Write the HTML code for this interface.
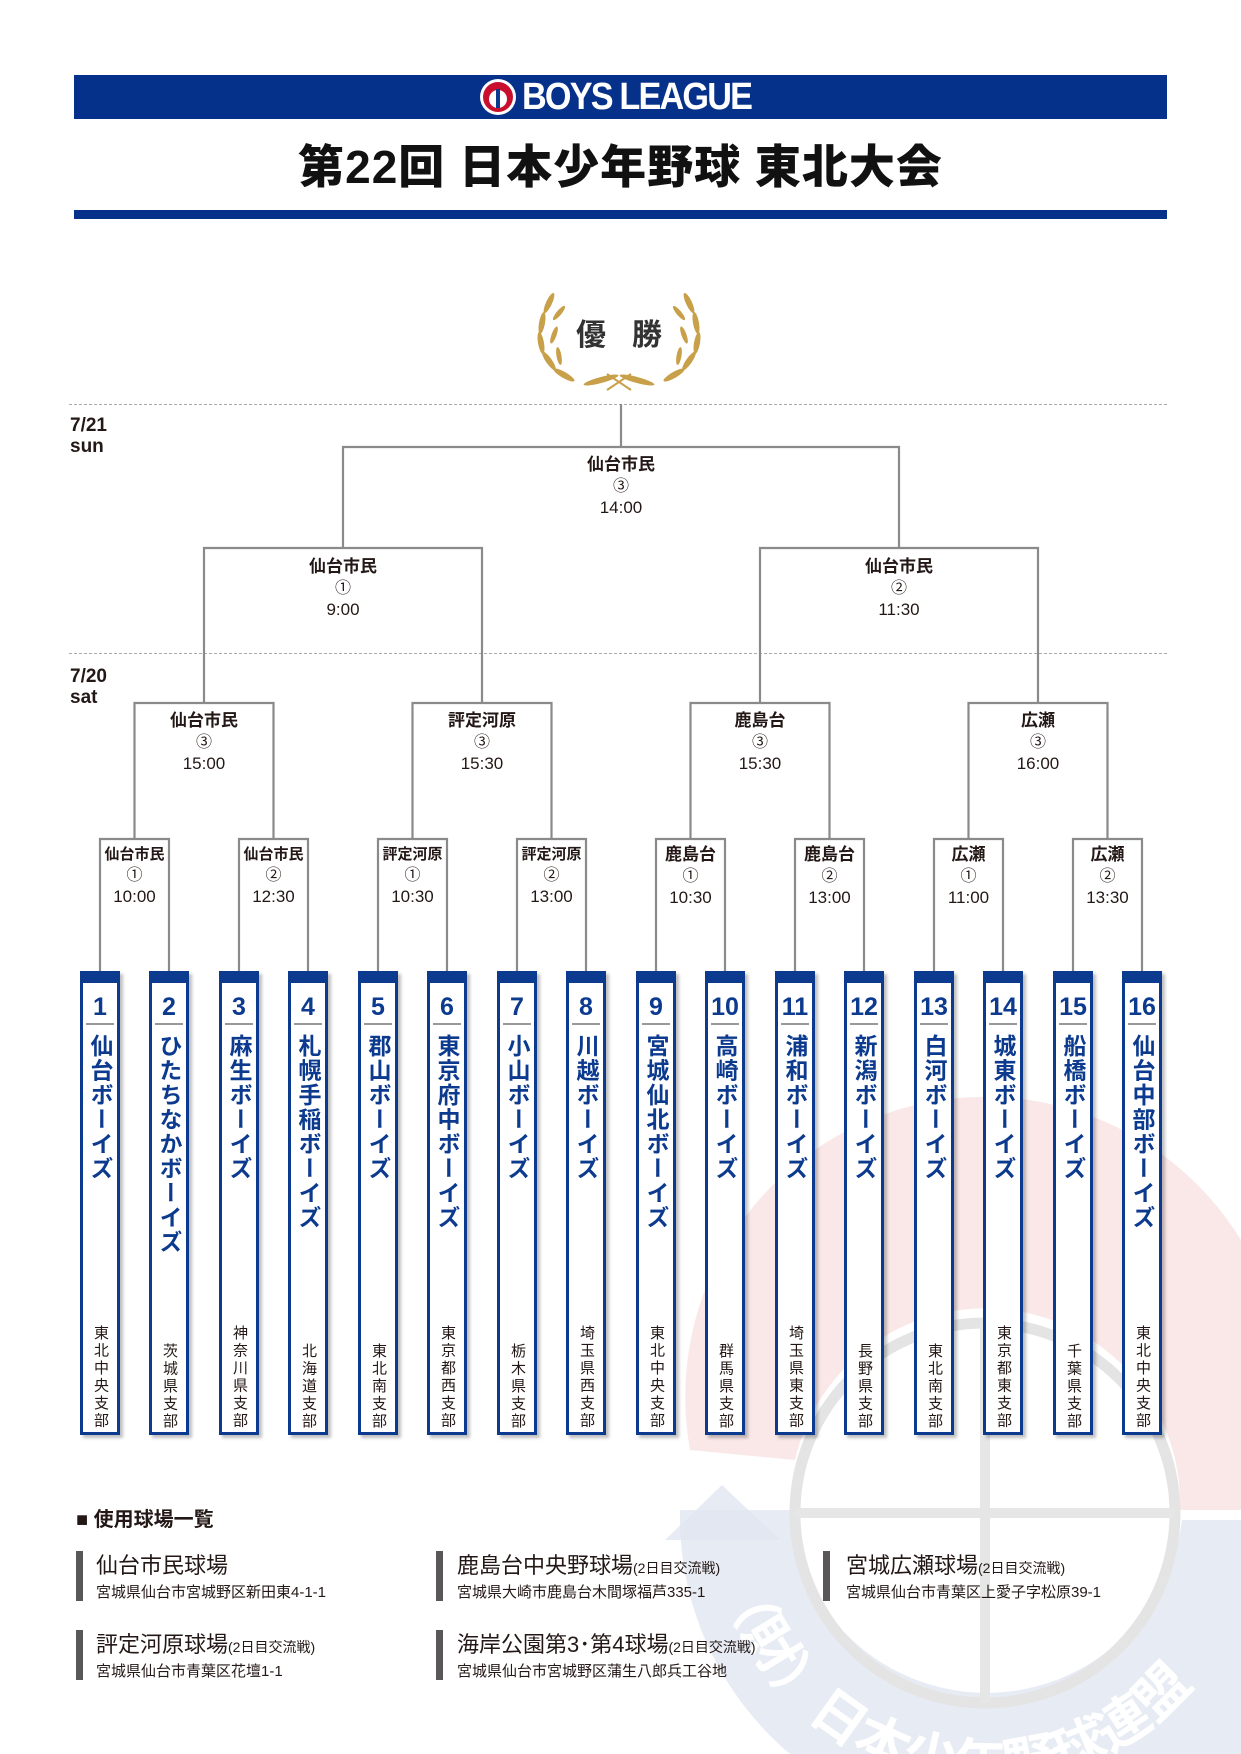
<!DOCTYPE html>
<html><head><meta charset="utf-8">
<style>
*{margin:0;padding:0;box-sizing:border-box}
html,body{width:1241px;height:1754px;overflow:hidden}
body{position:relative;background:#fff;font-family:"Liberation Sans","Noto Sans CJK JP",sans-serif;color:#231815}
.a{position:absolute}
.lbl{position:absolute;text-align:center;line-height:21px;font-size:17px;font-weight:bold;width:160px}
.lbl .c{font-weight:normal;font-size:16px}
.lbl .t{font-weight:normal;font-size:17px}
.lbl.s{font-size:15px}
.team{position:absolute;top:971px;width:40px;height:464px;border:3px solid #0b3a8e;border-top:12px solid #0b3a8e;background:#fff;box-shadow:3px 3px 3px rgba(0,0,0,.25)}
.team .n{position:absolute;top:10px;left:0;width:34px;text-align:center;font-size:25px;font-weight:bold;color:#0b3a8e;line-height:28px}
.team .u{position:absolute;top:40px;left:3px;width:28px;height:2px;background:#999}
.team .nm{position:absolute;top:51px;left:4px;writing-mode:vertical-rl;text-orientation:upright;font-size:23px;font-weight:bold;color:#0b3a8e;letter-spacing:1.5px;line-height:26px}
.team .rg{position:absolute;bottom:2px;left:8px;writing-mode:vertical-rl;text-orientation:upright;font-size:15px;letter-spacing:2.5px;line-height:18px;color:#231815}
.vb{position:absolute;width:7px;height:50px;background:#595757}
.vn{position:absolute;font-size:22px;color:#231815}
.vn small{font-size:14px}
.va{position:absolute;font-size:15px;color:#231815}
</style></head><body>

<!-- watermark -->
<svg class="a" style="left:0;top:0" width="1241" height="1754">
<defs><path id="arc" d="M715,1513 A270,270 0 0 0 1255,1513"/></defs>
<path d="M690,1450 A300,300 0 0 1 1241,1240 L1241,1510 L1180,1510 A195,195 0 0 0 795,1460 Z" fill="#f8dede" opacity="0.7"/>
<path d="M680,1510 L790,1510 A197,197 0 0 0 1182,1520 L1241,1520 L1241,1754 L790,1754 A310,310 0 0 1 680,1510 Z" fill="#e1e6f1" opacity="0.8"/>
<path d="M665,1540 L722,1485 L780,1540 Z" fill="#e1e6f1" opacity="0.8"/>
<circle cx="985" cy="1513" r="190" fill="none" stroke="#e4e4e4" stroke-width="11"/>
<line x1="985" y1="1323" x2="985" y2="1703" stroke="#e6e6e6" stroke-width="10"/>
<line x1="795" y1="1513" x2="1175" y2="1513" stroke="#e6e6e6" stroke-width="10"/>
<text font-size="54" font-weight="bold" fill="#fff" font-family="Noto Sans CJK JP,sans-serif"><textPath href="#arc" startOffset="8%">（財）日本少年野球連盟</textPath></text>
</svg>

<!-- header -->
<div class="a" style="left:74px;top:75px;width:1093px;height:44px;background:#06318a"></div>
<svg class="a" style="left:478px;top:77px" width="40" height="40"><circle cx="20" cy="20" r="18" fill="#fff"/><circle cx="20" cy="20" r="15" fill="#c8102e"/><circle cx="20" cy="22" r="9" fill="#fff"/><rect x="18" y="12" width="4" height="19" fill="#0b3a8e"/></svg>
<div class="a" style="left:522px;top:77px;font-size:38px;font-weight:bold;color:#fff;letter-spacing:-2px;line-height:40px;transform:scaleX(0.9);transform-origin:left">BOYS LEAGUE</div>
<div class="a" style="left:0;width:1241px;top:138px;text-align:center;font-size:46px;font-weight:900;line-height:58px;color:#111;letter-spacing:1px">第22回 日本少年野球 東北大会</div>
<div class="a" style="left:74px;top:210px;width:1093px;height:9px;background:#06318a"></div>

<!-- laurel -->
<svg class="a" style="left:529px;top:278px" width="180" height="115">
<g fill="#c9a04a">
<ellipse cx="20" cy="25" rx="3" ry="11" transform="rotate(25 20 25)"/>
<ellipse cx="13" cy="45" rx="3" ry="11" transform="rotate(10 13 45)"/>
<ellipse cx="12" cy="65" rx="3" ry="11" transform="rotate(-10 12 65)"/>
<ellipse cx="20" cy="83" rx="3" ry="11" transform="rotate(-35 20 83)"/>
<ellipse cx="35" cy="97" rx="3" ry="12" transform="rotate(-60 35 97)"/>
<ellipse cx="30" cy="35" rx="2.5" ry="9" transform="rotate(40 30 35)"/>
<ellipse cx="25" cy="57" rx="2.5" ry="9" transform="rotate(20 25 57)"/>
<ellipse cx="30" cy="78" rx="2.5" ry="9" transform="rotate(-10 30 78)"/>
<ellipse cx="160" cy="25" rx="3" ry="11" transform="rotate(-25 160 25)"/>
<ellipse cx="167" cy="45" rx="3" ry="11" transform="rotate(-10 167 45)"/>
<ellipse cx="168" cy="65" rx="3" ry="11" transform="rotate(10 168 65)"/>
<ellipse cx="160" cy="83" rx="3" ry="11" transform="rotate(35 160 83)"/>
<ellipse cx="145" cy="97" rx="3" ry="12" transform="rotate(60 145 97)"/>
<ellipse cx="150" cy="35" rx="2.5" ry="9" transform="rotate(-40 150 35)"/>
<ellipse cx="155" cy="57" rx="2.5" ry="9" transform="rotate(-20 155 57)"/>
<ellipse cx="150" cy="78" rx="2.5" ry="9" transform="rotate(10 150 78)"/>
<ellipse cx="72" cy="102" rx="18" ry="3" transform="rotate(-15 72 102)"/>
<ellipse cx="108" cy="102" rx="18" ry="3" transform="rotate(15 108 102)"/>
</g>
<path d="M78,112 L102,96 M102,112 L78,96" stroke="#c9a04a" stroke-width="2"/>
</svg>
<div class="a" style="left:576px;top:310px;font-size:30px;font-weight:bold;color:#333">優</div>
<div class="a" style="left:632px;top:310px;font-size:30px;font-weight:bold;color:#333">勝</div>

<!-- dotted lines -->
<div class="a" style="left:69px;top:404px;width:1098px;border-top:1px dashed #aaa"></div>
<div class="a" style="left:69px;top:653px;width:1098px;border-top:1px dashed #aaa"></div>
<div class="a" style="left:70px;top:415px;font-size:19px;font-weight:bold;line-height:21px">7/21<br>sun</div>
<div class="a" style="left:70px;top:666px;font-size:19px;font-weight:bold;line-height:21px">7/20<br>sat</div>

<!-- brackets -->
<svg class="a" style="left:0;top:0" width="1241" height="1000">
<g fill="none" stroke="#8a8a8a" stroke-width="2.2">
<path d="M621,404 V447"/>
<path d="M343,548 V447 H899 V548"/>
<path d="M204,703 V548 H482 V703"/>
<path d="M760,703 V548 H1038 V703"/>
<path d="M134.5,839 V703 H273.5 V839"/>
<path d="M412.5,839 V703 H551.5 V839"/>
<path d="M690.5,839 V703 H829.5 V839"/>
<path d="M968.5,839 V703 H1107.5 V839"/>
<path d="M100,971 V839 H169 V971"/>
<path d="M239,971 V839 H308 V971"/>
<path d="M378,971 V839 H447 V971"/>
<path d="M517,971 V839 H586 V971"/>
<path d="M656,971 V839 H725 V971"/>
<path d="M795,971 V839 H864 V971"/>
<path d="M934,971 V839 H1003 V971"/>
<path d="M1073,971 V839 H1142 V971"/>
</g></svg>

<!-- labels -->
<div class="lbl" style="left:541px;top:454px">仙台市民<br><span class="c">③</span><br><span class="t">14:00</span></div>
<div class="lbl" style="left:263px;top:556px">仙台市民<br><span class="c">①</span><br><span class="t">9:00</span></div>
<div class="lbl" style="left:819px;top:556px">仙台市民<br><span class="c">②</span><br><span class="t">11:30</span></div>
<div class="lbl" style="left:124px;top:710px">仙台市民<br><span class="c">③</span><br><span class="t">15:00</span></div>
<div class="lbl" style="left:402px;top:710px">評定河原<br><span class="c">③</span><br><span class="t">15:30</span></div>
<div class="lbl" style="left:680px;top:710px">鹿島台<br><span class="c">③</span><br><span class="t">15:30</span></div>
<div class="lbl" style="left:958px;top:710px">広瀬<br><span class="c">③</span><br><span class="t">16:00</span></div>

<div class="lbl s" style="left:54.5px;top:844px">仙台市民<br><span class="c">①</span><br><span class="t">10:00</span></div>
<div class="lbl s" style="left:193.5px;top:844px">仙台市民<br><span class="c">②</span><br><span class="t">12:30</span></div>
<div class="lbl s" style="left:332.5px;top:844px">評定河原<br><span class="c">①</span><br><span class="t">10:30</span></div>
<div class="lbl s" style="left:471.5px;top:844px">評定河原<br><span class="c">②</span><br><span class="t">13:00</span></div>
<div class="lbl" style="left:610.5px;top:844px">鹿島台<br><span class="c">①</span><br><span class="t">10:30</span></div>
<div class="lbl" style="left:749.5px;top:844px">鹿島台<br><span class="c">②</span><br><span class="t">13:00</span></div>
<div class="lbl" style="left:888.5px;top:844px">広瀬<br><span class="c">①</span><br><span class="t">11:00</span></div>
<div class="lbl" style="left:1027.5px;top:844px">広瀬<br><span class="c">②</span><br><span class="t">13:30</span></div>

<!-- teams -->
<div class="team" style="left:80px"><div class="n">1</div><div class="u"></div><div class="nm">仙台ボーイズ</div><div class="rg">東北中央支部</div></div>
<div class="team" style="left:149px"><div class="n">2</div><div class="u"></div><div class="nm">ひたちなかボーイズ</div><div class="rg">茨城県支部</div></div>
<div class="team" style="left:219px"><div class="n">3</div><div class="u"></div><div class="nm">麻生ボーイズ</div><div class="rg">神奈川県支部</div></div>
<div class="team" style="left:288px"><div class="n">4</div><div class="u"></div><div class="nm">札幌手稲ボーイズ</div><div class="rg">北海道支部</div></div>
<div class="team" style="left:358px"><div class="n">5</div><div class="u"></div><div class="nm">郡山ボーイズ</div><div class="rg">東北南支部</div></div>
<div class="team" style="left:427px"><div class="n">6</div><div class="u"></div><div class="nm">東京府中ボーイズ</div><div class="rg">東京都西支部</div></div>
<div class="team" style="left:497px"><div class="n">7</div><div class="u"></div><div class="nm">小山ボーイズ</div><div class="rg">栃木県支部</div></div>
<div class="team" style="left:566px"><div class="n">8</div><div class="u"></div><div class="nm">川越ボーイズ</div><div class="rg">埼玉県西支部</div></div>
<div class="team" style="left:636px"><div class="n">9</div><div class="u"></div><div class="nm">宮城仙北ボーイズ</div><div class="rg">東北中央支部</div></div>
<div class="team" style="left:705px"><div class="n">10</div><div class="u"></div><div class="nm">高崎ボーイズ</div><div class="rg">群馬県支部</div></div>
<div class="team" style="left:775px"><div class="n">11</div><div class="u"></div><div class="nm">浦和ボーイズ</div><div class="rg">埼玉県東支部</div></div>
<div class="team" style="left:844px"><div class="n">12</div><div class="u"></div><div class="nm">新潟ボーイズ</div><div class="rg">長野県支部</div></div>
<div class="team" style="left:914px"><div class="n">13</div><div class="u"></div><div class="nm">白河ボーイズ</div><div class="rg">東北南支部</div></div>
<div class="team" style="left:983px"><div class="n">14</div><div class="u"></div><div class="nm">城東ボーイズ</div><div class="rg">東京都東支部</div></div>
<div class="team" style="left:1053px"><div class="n">15</div><div class="u"></div><div class="nm">船橋ボーイズ</div><div class="rg">千葉県支部</div></div>
<div class="team" style="left:1122px"><div class="n">16</div><div class="u"></div><div class="nm">仙台中部ボーイズ</div><div class="rg">東北中央支部</div></div>

<!-- venues -->
<div class="a" style="left:76px;top:1508px;font-size:20px;font-weight:bold;line-height:24px">■ 使用球場一覧</div>

<div class="vb" style="left:76px;top:1551px"></div>
<div class="vn" style="left:96px;top:1548px">仙台市民球場</div>
<div class="va" style="left:96px;top:1581px">宮城県仙台市宮城野区新田東4-1-1</div>

<div class="vb" style="left:436px;top:1551px"></div>
<div class="vn" style="left:457px;top:1548px">鹿島台中央野球場<small>(2日目交流戦)</small></div>
<div class="va" style="left:457px;top:1581px">宮城県大崎市鹿島台木間塚福芦335-1</div>

<div class="vb" style="left:823px;top:1551px"></div>
<div class="vn" style="left:846px;top:1548px">宮城広瀬球場<small>(2日目交流戦)</small></div>
<div class="va" style="left:846px;top:1581px">宮城県仙台市青葉区上愛子字松原39-1</div>

<div class="vb" style="left:76px;top:1630px"></div>
<div class="vn" style="left:96px;top:1627px">評定河原球場<small>(2日目交流戦)</small></div>
<div class="va" style="left:96px;top:1660px">宮城県仙台市青葉区花壇1-1</div>

<div class="vb" style="left:436px;top:1630px"></div>
<div class="vn" style="left:457px;top:1627px">海岸公園第3･第4球場<small>(2日目交流戦)</small></div>
<div class="va" style="left:457px;top:1660px">宮城県仙台市宮城野区蒲生八郎兵工谷地</div>

</body></html>
